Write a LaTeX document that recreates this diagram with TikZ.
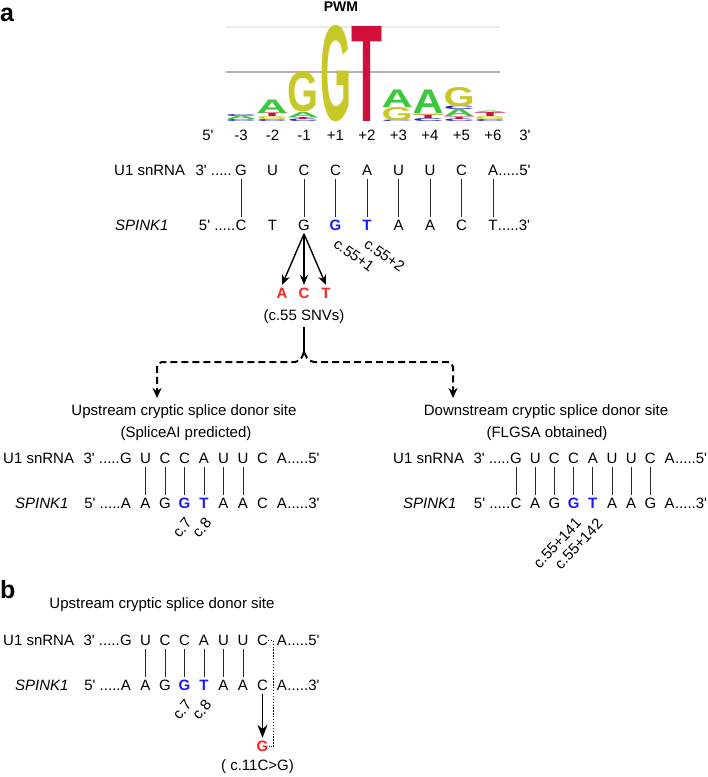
\documentclass[tikz,border=0pt]{standalone}
\usepackage{fontspec}
\setmainfont{Liberation Sans}
\usepackage{xcolor}
\usepackage{graphicx}
\usetikzlibrary{arrows.meta,positioning,calc}
\definecolor{pwmgreen}{HTML}{3CC83C}
\definecolor{pwmyellow}{HTML}{C8C828}
\definecolor{pwmred}{HTML}{D0103A}
\definecolor{pwmblue}{HTML}{2020C0}
\definecolor{ntblue}{HTML}{1A1AFF}
\definecolor{ntred}{HTML}{FF2020}
\newcommand{\seqfont}{\fontsize{15}{18}\selectfont}
\newcommand{\qs}{\textquotesingle}
\tikzset{
  nt/.style={anchor=base, inner xsep=0pt, inner ysep=3pt},
  ntmut/.style={nt, text=ntblue, font=\seqfont\bfseries},
  ntsnv/.style={nt, text=ntred, font=\seqfont\bfseries},
  cpos/.style={inner sep=0.5pt, font=\seqfont},
  pairline/.style={line width=0.9pt, draw=black!85},
  snvarrow/.style={-{Stealth[length=10pt, width=8pt]}, line width=1.4pt},
  mutarrow/.style={-{Stealth[length=13pt, width=10pt]}, line width=1.8pt},
  stemline/.style={line width=2pt},
  splitarrow/.style={-{Stealth[length=10pt, width=9pt]}, line width=2pt,
    dash pattern=on 7pt off 4pt, rounded corners=5pt},
  dotline/.style={line width=1.3pt, dash pattern=on 1.3pt off 1.6pt},
  panellabel/.style={anchor=base west, inner sep=0pt, font=\fontsize{25}{28}\selectfont\bfseries},
  pwmtitle/.style={anchor=base, inner sep=0pt, font=\fontsize{14}{16}\selectfont\bfseries},
  pwmglyph/.style={inner sep=0pt, anchor=south},
  pwmgrid/.style={line width=1.2pt, draw=black!30}
}

\begin{document}
\begin{tikzpicture}[x=1pt, y=-1pt, font=\seqfont]
    \useasboundingbox (0,0) rectangle (708,777);

    % panel letters
    \node[panellabel] (laba) at (0,21.5) {a};
    \node[panellabel] (labb) at (0,598) {b};

    % PWM logo
    \node[pwmtitle] (pwm) at (341,11.7) {PWM};
    \draw[pwmgrid, draw=black!8] (226,27) -- (500,27);
    \draw[pwmgrid] (226,72) -- (500,72);
    \foreach \xx/\yb/\hh/\ch/\col [count=\k] in {
        241/122/2/C/pwmblue, 241/120/3.5/A/pwmgreen, 241/116.5/2/C/pwmblue,
        272/122/2/C/pwmblue, 272/120/3/G/pwmyellow, 272/117/3.5/T/pwmred, 272/113.5/13.5/A/pwmgreen,
        303/122/2.5/C/pwmblue, 303/119.5/2/T/pwmred, 303/117.5/5/A/pwmgreen, 303/112.5/39.5/G/pwmyellow,
        336/122/95/G/pwmyellow,
        367/122/95/T/pwmred,
        397/122/1.5/C/pwmblue, 397/120.5/13/G/pwmyellow, 397/107.5/17.5/A/pwmgreen,
        428/122/3/C/pwmblue, 428/119/3.5/T/pwmred, 428/115.5/2/G/pwmyellow, 428/113.5/23.5/A/pwmgreen,
        459/122/2.5/C/pwmblue, 459/119.5/2.5/T/pwmred, 459/117/7/A/pwmgreen, 459/110/3.5/C/pwmblue,
        459/106.5/19/G/pwmyellow,
        490/122/2/C/pwmblue, 490/120/3/G/pwmyellow, 490/117/4/T/pwmred, 490/113/1.5/A/pwmgreen}
      \node[pwmglyph] (glyph\k) at (\xx,\yb) {\resizebox{31pt}{\hh pt}{\color{\col}\bfseries\ch}};

    % positions
    \node[nt] (pos0) at (208,140.5) {5\qs};
    \foreach \p [count=\i] in {-3,-2,-1,+1,+2,+3,+4,+5,+6}
      \node[nt] (pos\i) at ({209.5+31.5*\i},140.5) {\p};
    \node[nt] (pos10) at (525,140.5) {3\qs};

    % native donor site
    \node[nt, anchor=base west] (ulab) at (114,175.5) {U1 snRNA};
    \node[nt, anchor=base west] (slab) at (115,230.5) {\textit{SPINK1}};
    \foreach \ch [count=\i] in {G,U,C,C,A,U,U,C,A}
      \node[nt] (u\i) at ({209.5+31.5*\i},175.5) {\ch};
    \foreach \ch/\st [count=\i] in {C/nt,T/nt,G/nt,G/ntmut,T/ntmut,A/nt,A/nt,C/nt,T/nt}
      \node[\st] (s\i) at ({209.5+31.5*\i},230.5) {\ch};
    \node[nt, anchor=base east, xshift=-3pt] (u0) at (u1.base west) {3\qs\ .....};
    \node[nt, anchor=base west] (u10) at (u9.base east) {.....5\qs};
    \node[nt, anchor=base east] (s0) at (s1.base west) {5\qs\ .....};
    \node[nt, anchor=base west] (s10) at (s9.base east) {.....3\qs};
    \foreach \i in {1,3,4,5,6,7,8,9}
      \draw[pairline] (u\i) -- (s\i);
    \node[cpos, rotate=-36, anchor=north west] (c551) at ($(s4.south)+(3,3)$) {c.55+1};
    \node[cpos, rotate=-36, anchor=north west] (c552) at ($(s5.south)+(2,3)$) {c.55+2};

    % SNVs
    \node[ntsnv] (snvA) at (282,298.5) {A};
    \node[ntsnv] (snvC) at (304,298.5) {C};
    \node[ntsnv] (snvT) at (326,298.5) {T};
    \draw[snvarrow] (s3.south) -- (snvA.north);
    \draw[snvarrow] (s3.south) -- (snvC.north);
    \draw[snvarrow] (s3.south) -- (snvT.north);
    \node[nt] (snvnote) at (304,320.5) {(c.55 SNVs)};

    \coordinate (split) at (304,352);
    \coordinate (splitl) at (300,362);
    \coordinate (splitr) at (309,362);
    \coordinate (upin) at (157,398);
    \coordinate (downin) at (453,398);
    \draw[stemline] (snvnote.south) -- (split);
    \draw[splitarrow] (split) -- (splitl) -| (upin);
    \draw[splitarrow] (split) -- (splitr) -| (downin);

    % upstream cryptic site
    \node[nt] (uphead) at (184,415) {Upstream cryptic splice donor site};
    \node[nt] (upnote) at (186,437.5) {(SpliceAI predicted)};
    \node[nt, anchor=base west] (lulab) at (3,463.5) {U1 snRNA};
    \node[nt, anchor=base west] (lslab) at (15,508.5) {\textit{SPINK1}};
    \foreach \ch [count=\i] in {G,U,C,C,A,U,U,C,A}
      \node[nt] (lu\i) at ({106.5+19.5*\i},463.5) {\ch};
    \foreach \ch/\st [count=\i] in {A/nt,A/nt,G/nt,G/ntmut,T/ntmut,A/nt,A/nt,C/nt,A/nt}
      \node[\st] (ls\i) at ({106.5+19.5*\i},508.5) {\ch};
    \node[nt, anchor=base east] (lu0) at (lu1.base west) {3\qs\ .....};
    \node[nt, anchor=base west] (lu10) at (lu9.base east) {.....5\qs};
    \node[nt, anchor=base east] (ls0) at (ls1.base west) {5\qs\ .....};
    \node[nt, anchor=base west] (ls10) at (ls9.base east) {.....3\qs};
    \foreach \i in {2,...,7}
      \draw[pairline] (lu\i) -- (ls\i);
    \node[cpos, rotate=50, anchor=north east] (lc7) at ($(ls4.south)+(0,4)$) {c.7};
    \node[cpos, rotate=50, anchor=north east] (lc8) at ($(ls5.south)+(0,4)$) {c.8};

    % downstream cryptic site
    \node[nt] (downhead) at (546,415) {Downstream cryptic splice donor site};
    \node[nt] (downnote) at (547,437.5) {(FLGSA obtained)};
    \node[nt, anchor=base west] (rulab) at (393,463.5) {U1 snRNA};
    \node[nt, anchor=base west] (rslab) at (403,508.5) {\textit{SPINK1}};
    \foreach \ch [count=\i] in {G,U,C,C,A,U,U,C,A}
      \node[nt] (ru\i) at ({496.8+19.2*\i},463.5) {\ch};
    \foreach \ch/\st [count=\i] in {C/nt,A/nt,G/nt,G/ntmut,T/ntmut,A/nt,A/nt,G/nt,A/nt}
      \node[\st] (rs\i) at ({496.8+19.2*\i},508.5) {\ch};
    \node[nt, anchor=base east] (ru0) at (ru1.base west) {3\qs\ .....};
    \node[nt, anchor=base west] (ru10) at (ru9.base east) {.....5\qs};
    \node[nt, anchor=base east] (rs0) at (rs1.base west) {5\qs\ .....};
    \node[nt, anchor=base west] (rs10) at (rs9.base east) {.....3\qs};
    \foreach \i in {1,...,8}
      \draw[pairline] (ru\i) -- (rs\i);
    \node[cpos, rotate=47, anchor=north east] (rc141) at ($(rs4.south)+(1,4)$) {c.55+141};
    \node[cpos, rotate=47, anchor=north east] (rc142) at ($(rs5.south)+(3,5)$) {c.55+142};

    % panel b
    \node[nt] (bhead) at (162,608) {Upstream cryptic splice donor site};
    \node[nt, anchor=base west] (bulab) at (3,645.5) {U1 snRNA};
    \node[nt, anchor=base west] (bslab) at (15,690.5) {\textit{SPINK1}};
    \foreach \ch [count=\i] in {G,U,C,C,A,U,U,C,A}
      \node[nt] (bu\i) at ({106.5+19.5*\i},645.5) {\ch};
    \foreach \ch/\st [count=\i] in {A/nt,A/nt,G/nt,G/ntmut,T/ntmut,A/nt,A/nt,C/nt,A/nt}
      \node[\st] (bs\i) at ({106.5+19.5*\i},690.5) {\ch};
    \node[nt, anchor=base east] (bu0) at (bu1.base west) {3\qs\ .....};
    \node[nt, anchor=base west] (bu10) at (bu9.base east) {.....5\qs};
    \node[nt, anchor=base east] (bs0) at (bs1.base west) {5\qs\ .....};
    \node[nt, anchor=base west] (bs10) at (bs9.base east) {.....3\qs};
    \foreach \i in {2,...,7}
      \draw[pairline] (bu\i) -- (bs\i);
    \node[cpos, rotate=50, anchor=north east] (bc7) at ($(bs4.south)+(0,4)$) {c.7};
    \node[cpos, rotate=50, anchor=north east] (bc8) at ($(bs5.south)+(0,4)$) {c.8};

    \node[ntsnv] (gmut) at (262.5,751.5) {G};
    \draw[mutarrow] (bs8) -- (gmut);
    \draw[dotline] (bu8.east) -| ($(gmut.east)+(5,0)$) -- (gmut.east);
    \node[nt] (mutnote) at (257.5,770) {( c.11C>G)};
\end{tikzpicture}
\end{document}
